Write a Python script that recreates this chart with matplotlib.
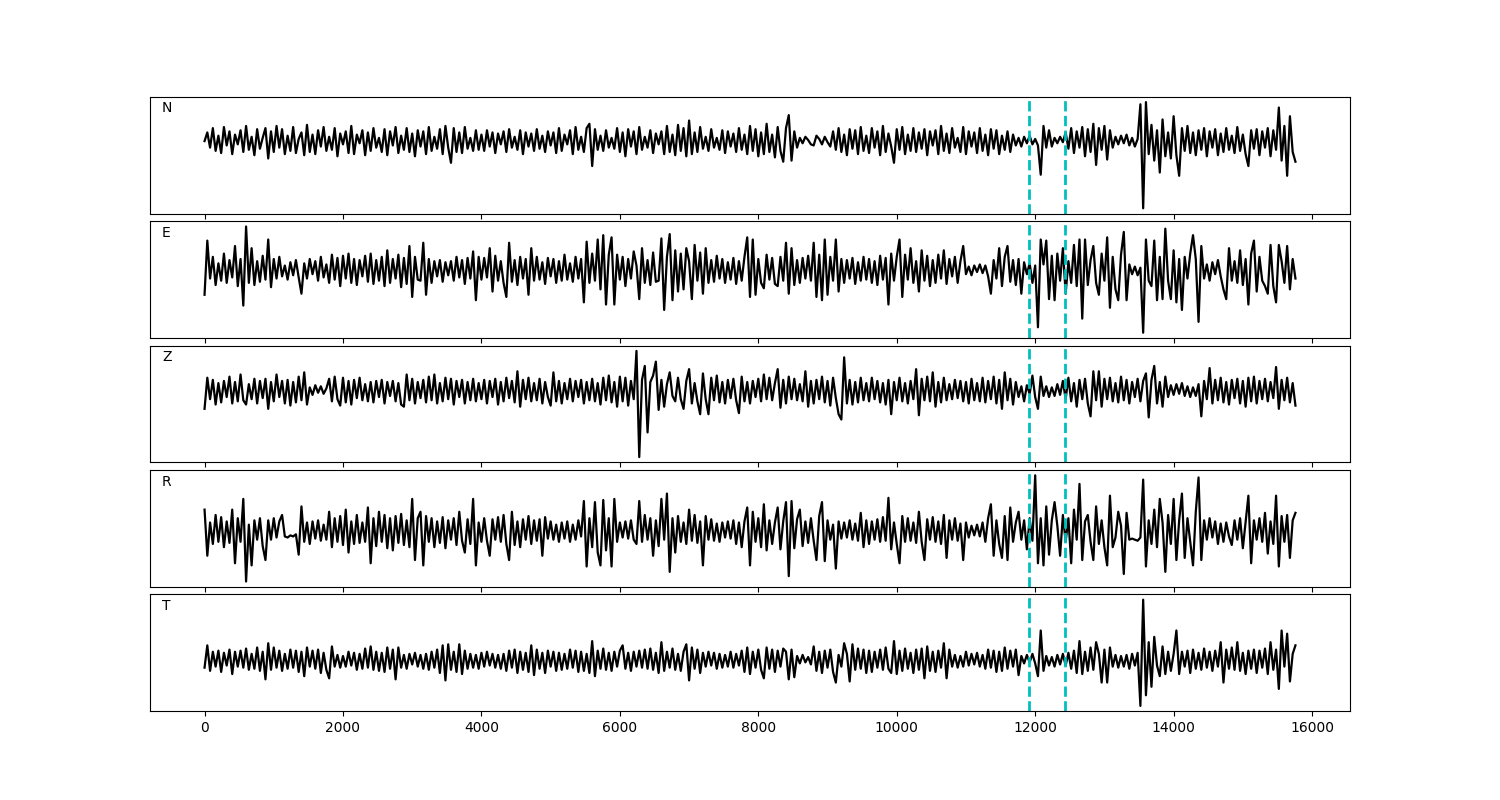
import numpy as np
import matplotlib
matplotlib.use('Agg')
import matplotlib.pyplot as plt

# sample spacing of the traces (x units)
step = 40
# picks marked by the dashed lines
picks = [11915, 12425]
components = ['N', 'E', 'Z', 'R', 'T']

trace_N = [
    0, 8, -6, 12, -9, 5, -11, 13, -4, 9, -12, 6, -3, 10, -10, 14, -8, 4, -13, 11,
    -7, 3, 12, -16, 9, -10, 14, -6, 11, -12, 5, -9, 13, -11, 2, 8, -13, 15, -10, 6,
    -12, 10, -5, 13, -9, 4, -8, 12, -14, 7, -3, 9, -11, 14, -12, 6, -2, 10, -13, 8,
    -9, 12, -6, 3, -10, 11, -13, 9, -4, 13, -11, 5, -8, 12, -10, 7, -14, 10, -5, 9,
    -12, 13, -9, 4, -7, 11, -12, 14, -6, -20, 12, -10, 8, -11, 13, -7, 3, -9, 10, -8,
    6, -9, 10, -5, 8, -11, 7, -3, 9, -10, 11, -6, 4, -8, 10, -12, 8, -5, 7, -9,
    11, -7, 5, -10, 9, -4, 8, -11, 12, -9, 6, -3, 10, -12, 13, -8, 4, -10, 12, 16,
    -23, 11, -8, 5, -9, 10, -6, 3, -7, 12, -10, 8, -14, 11, -5, 9, -12, 13, -8, 4,
    -6, 10, -11, 7, -3, 9, -12, 14, -10, 6, -13, 15, -9, 12, -14, 19, -12, 8, -10, 13,
    -7, 4, -9, 11, -6, 3, -8, 10, -11, 9, -5, 7, -10, 12, -8, 6, -12, 14, -9, 11,
    -14, 8, -12, 16, -10, 6, -15, 13, -9, -19, 12, 24, -18, 9, -6, 3, -2, 4, 1, -3,
    -4, 5, 2, -3, 4, -1, -5, 9, -8, 12, -10, 6, -13, 11, -7, 10, -12, 13, -9, 5,
    -11, 12, -6, 9, -13, 14, -10, 7, -5, -20, 11, -8, 13, -12, 6, -9, 12, -10, 8, -7,
    11, -13, 9, -4, 10, -12, 14, -9, 7, -11, 12, -6, 3, -10, 13, -12, 9, -5, 8, -11,
    12, -9, 6, -13, 11, -7, 10, -12, 5, -8, 9, -10, 6, -4, 3, -5, 4, -2, 5, -3,
    2, -4, -31, 14, -6, 10, -5, 3, -2, 4, -1, 8, -7, 12, -11, 9, -6, 13, -14, 11,
    -10, 16, -22, 12, -8, 14, -17, 10, -6, 4, -3, 5, -2, 6, -4, 3, -5, 2, 34, -62,
    36, -12, 15, -18, 10, -29, 20, -14, 8, -16, 23, -13, -32, 12, -9, 14, -11, 8, -13, 10,
    -8, 12, -14, 9, -6, 11, -13, 7, -10, 12, -8, 5, -11, 13, -9, 6, -12, -23, 10, -7,
    11, -13, 9, -6, 12, -14, 10, -8, 31, -18, 14, -32, 23, -10, -19,
]

trace_E = [
    -23, 27, -8, 12, -14, 6, -10, 15, -12, 9, -7, 22, -15, 10, -33, 40, -12, 20, -14, 8,
    -11, 13, -9, 28, -16, 10, -8, 12, -6, 4, -9, 7, -5, 9, -7, -22, 6, -8, 10, -4,
    8, -10, 12, -7, 5, -12, 14, -9, 11, -15, 13, -8, 15, -12, 10, -14, 9, -6, 13, -11,
    15, -13, 9, -10, 12, -15, 18, -12, 10, -8, 14, -16, 11, -13, 22, -25, 12, -9, -10, 25,
    -23, 10, -12, 8, -6, 9, -11, 7, -5, 8, -10, 12, -7, 9, -13, 11, -8, 17, -28, 12,
    -9, 11, -7, 20, -20, 13, -10, 8, -12, -25, 25, -11, 9, -14, 12, -8, 10, -23, 20, -10,
    12, -9, 7, -13, 11, -6, 10, -12, 8, -10, 14, -9, 6, -11, 12, -8, 10, -30, 26, -12,
    15, -10, 28, -18, 32, -32, 14, 30, -32, 14, -9, 12, -15, 10, -8, 17, 4, -27, 20, -12,
    9, -14, 16, -11, -10, 29, -37, 12, 33, -28, 18, -20, 15, -18, 20, 8, -27, 23, -10, 16,
    -22, 20, -12, 9, -11, 13, -8, 10, -12, 7, -9, 11, -13, 8, -10, 12, 30, -25, 28, -23,
    10, -12, -17, 14, -9, 11, -13, -15, 12, -10, 25, -22, 20, -14, 9, -12, 11, -8, 13, -10,
    25, -25, 14, -28, 28, -23, 12, -10, 28, -20, 10, -12, 9, -8, 11, -13, 7, -10, 12, -9,
    10, -12, 8, -14, 13, -9, 11, -32, 15, -10, 12, 28, -25, 14, -9, 20, -12, 8, -20, 18,
    -10, 13, -15, 9, -12, 14, -8, 18, -13, 10, -6, 12, -12, 8, 22, -4, 3, -5, 4, -2,
    5, -3, 4, -6, -22, 9, -8, 20, -15, 12, 22, -11, 9, -14, 10, -22, 7, -4, 6, -12,
    4, -53, 28, 5, 27, -27, 13, -28, 15, -10, 20, -22, 8, -12, 23, -15, 28, -45, 28, -14,
    9, 22, -12, -23, 15, -10, 30, -35, 12, -18, -28, 14, 35, -28, 5, -4, 3, -5, 2, -58,
    28, -10, -15, 27, -28, 12, -27, 38, -10, -27, 18, -30, 10, -37, 12, -8, 15, 32, 10, -48,
    22, -8, 5, -10, 7, -4, 9, -6, -18, -27, 20, -10, 8, -12, 18, -14, 10, -32, 15, 27,
    -20, 12, -10, -15, -22, 23, -15, -30, 23, 8, -12, 22, -18, 10, -8,
]

trace_Z = [
    -17, 12, -8, 10, -13, 7, -11, 9, -6, 13, -12, 8, -10, 15, -9, -13, 6, -8, 11, -12,
    9, -7, 11, -17, 8, -10, 15, -6, 9, -12, 10, -14, 8, -11, 13, -9, 17, -13, 3, -4,
    5, -2, 4, -3, 2, 11, -10, 13, -8, -14, 12, -11, 9, -13, 10, -7, 12, -9, 6, -10,
    8, -11, 9, -6, 10, -12, 8, -5, 9, -10, 7, -13, -15, 15, -9, 11, -12, 8, -7, 10,
    -11, 13, -9, 15, -12, 7, -10, 12, -8, 11, -13, 9, -6, 10, -12, 8, -9, 11, -10, 7,
    -8, 10, -12, 9, -6, 11, -13, 8, -10, 12, -7, 9, -11, 18, -15, 10, -8, 12, -10, 7,
    -9, 11, -12, 8, -6, -14, 17, -10, 9, -12, 7, -8, 11, -10, 9, -6, 10, -12, 8, -9,
    11, -10, 7, -13, 12, -9, 14, -11, 8, -15, 13, -10, 12, -14, 9, -8, 37, -62, 10, 23,
    -39, 8, 14, 27, -18, 10, -15, 6, 17, -5, -10, 12, -8, -17, 9, 20, -12, 7, -10, -22,
    16, -8, -22, 12, -9, 14, -11, 8, -12, 10, -7, 11, -9, -21, 13, -10, 8, -12, 9, -6,
    11, -10, 15, -8, 12, -9, 7, 20, -16, 10, -12, 13, -8, 11, -9, 6, -10, 18, -15, 9,
    -12, 10, -8, 13, -11, 9, -14, 12, -7, -22, -27, 31, -12, 10, -13, 8, -11, 12, -9, 7,
    -10, 12, -8, 9, -11, 7, -13, 10, -22, 8, -9, 12, -10, 7, -12, 9, -8, 20, -23, 11,
    -9, 13, -10, 17, -15, 8, -11, 12, -9, 6, -8, 10, -7, 9, -10, 8, -12, 11, -9, 7,
    -10, 12, -11, 9, -8, 13, -12, 10, -17, 17, -9, 11, -13, 8, -6, 4, -10, 5, -3, 14,
    -6, -17, 13, -5, 4, -6, 3, -5, 6, -4, 9, -8, 12, -10, 7, -15, 10, -8, 11, -12,
    -24, 18, -9, 18, -15, 11, -8, 12, -10, 7, -11, 13, -9, 10, -12, 8, -6, 11, -10, 9,
    16, -25, 10, 23, -12, 8, -15, 13, -6, 5, -4, 6, -3, 7, -5, 4, -6, 3, -5, 6,
    -24, 9, -8, 21, -12, 10, -9, 12, -11, 8, -13, 10, -7, 11, -12, 9, -15, 12, -10, 13,
    -12, 9, -8, 11, -10, 8, -7, 22, -17, 10, -9, 12, -11, 7, -14,
]

trace_R = [
    20, -23, 8, -12, 15, -10, 13, -15, 9, -11, 20, -30, 12, -10, 30, -47, 6, -32, 10, -8,
    12, -14, -27, 10, -8, 12, -6, 9, 15, -5, -6, -4, -5, -3, -22, 23, -10, 8, -12, 9,
    -7, 10, -9, 6, -8, 18, -15, 12, -10, 14, -13, 20, -20, 9, -12, 15, -11, 8, -10, 22,
    -30, 12, -14, 18, -10, 15, -16, 12, -18, 14, -11, 16, -13, 10, -15, 30, -27, 12, 18, -32,
    14, -10, 12, -15, 9, -11, 13, -16, 10, -8, 12, -13, 18, -9, -20, 11, -12, 30, -32, 8,
    -10, 12, -9, -23, 11, -8, 13, -10, 15, -12, -27, 18, -13, 9, -15, 11, -8, 14, -12, 10,
    -9, 11, -23, 13, -7, 9, -8, 6, -10, 8, -7, 9, -10, 6, -8, 10, -5, 28, -33, 12,
    -15, 27, -20, -32, 29, -18, 12, -33, 30, -10, 8, -6, 9, -7, 10, -8, -12, 28, -10, 15,
    -8, 12, -23, 10, -14, 30, -8, 35, -38, 12, -20, 14, -10, 8, -12, 20, -9, 15, -11, 9,
    -32, 14, -8, 11, -9, 7, -10, 8, -6, 9, -7, 10, -12, 8, -15, 9, 22, -32, 18, -10,
    12, -15, 25, -18, 10, -12, 8, 22, -17, 9, 27, -42, 28, -16, 11, 20, -14, 9, -11, 12,
    -9, -27, 14, 27, -28, 10, -8, 6, -35, 9, -7, 8, -6, 10, -8, 7, -9, 17, -15, 10,
    -12, 9, -8, 11, -10, 13, -9, 31, -17, 8, -12, -30, 14, -10, 12, -9, 8, -11, 18, -10,
    -27, 11, -8, 13, -10, 9, -12, 15, -25, 10, -8, 12, -9, 7, -27, 8, -6, 5, -4, 6,
    -5, 8, -10, 12, 25, -23, 10, -12, -25, 14, -27, 22, -10, 8, 18, -8, 10, -17, 12, -9,
    52, -30, 12, -32, 23, -22, 10, 27, 5, -23, 15, -10, 12, -30, 20, -8, 44, -27, 9, 15,
    -10, -27, 23, -12, 10, -15, -32, 33, -15, -6, 18, 5, -40, 17, -8, -7, -8, -9, -6, 48,
    -33, 10, -12, 20, -15, 30, 8, -38, 15, -12, 30, -27, 10, 35, -25, 12, -10, -32, 18, 50,
    -27, 10, -8, 12, -6, 9, -12, 7, -10, 8, -5, -13, 10, -8, 12, -16, 9, 33, -30, 10,
    -8, 12, -10, 17, -21, 9, -12, 33, -33, 14, -10, 15, -25, 10, 17,
]

trace_T = [
    -7, 14, -10, 8, -6, 9, -11, 7, -5, 10, -13, 8, -6, 9, -7, 11, -9, 6, -8, 12,
    -10, 8, -18, 16, -9, 12, -7, 9, -10, 6, -8, 10, -7, 9, -11, 8, -15, 12, -6, 9,
    -8, 10, -12, 7, -9, -17, 13, -6, 5, -7, 4, -6, 8, -5, 7, -9, 6, -8, 11, -7,
    13, -9, 8, -10, 7, -11, 12, -8, 10, -18, 12, -7, 5, -8, 6, -4, 7, -6, 5, -8,
    6, -9, 8, -7, 10, -12, 14, -19, 15, -9, 8, -11, 15, -13, 9, -8, 6, -7, 5, -8,
    7, -6, 8, -5, 6, -7, 5, -8, 6, -10, 9, -7, 10, -12, 8, -9, 7, -11, 14, -14,
    10, -8, 7, -12, 9, -6, 8, -10, 7, -9, 6, -8, 10, -7, 9, -11, 8, -10, 6, -12,
    18, -15, 9, -8, 11, -9, 7, -10, 8, -6, 9, 14, -8, 7, -10, 8, -6, 9, -7, 10,
    -8, 11, -9, 7, -12, 17, -10, 8, -7, 11, -9, 6, -10, 8, 15, -19, 12, -8, 10, -12,
    7, -6, 8, -5, 7, -8, 6, -7, 5, -6, 8, -7, 6, -5, 9, -11, 12, -13, 8, -7,
    10, -9, -17, 12, -8, 10, -11, 9, -6, 11, 8, -18, 10, -16, 4, -3, 5, -2, 3, -4,
    13, -10, 8, -12, 9, -7, 10, -11, -21, 5, -6, 16, 6, -20, 15, -9, 11, -8, 10, -12,
    9, -11, 8, -7, 10, -9, 12, -8, -12, 18, -13, 9, -10, 11, -8, 7, -12, 10, -9, 11,
    -17, 13, -10, 8, -11, 9, -7, 16, -17, 10, -6, 5, -7, 4, -6, 8, -5, 6, -4, 7,
    -6, 5, -8, 10, -7, 9, -11, 8, -10, 12, -8, 9, -6, 10, -14, 4, -3, 5, -2, 6,
    -3, -15, 28, -10, 4, -5, 3, -6, 5, -4, 6, -5, 7, -8, 9, -12, 18, -13, 8, -10,
    12, -9, 17, 6, -21, 10, -21, 12, -6, 5, -7, 4, -6, 5, -8, 6, -5, 7, -43, 57,
    -33, 17, -25, 22, -5, -15, 13, -13, 8, -10, 6, 28, -13, 8, -6, 9, -12, 10, -8, 7,
    -9, 11, -7, 8, -10, 9, -6, 17, -21, 10, -8, 12, -9, 17, -10, 7, -13, 9, -8, 10,
    -12, 9, -7, 11, -13, 17, -9, 10, -27, 28, -6, 25, -20, 6, 14,
]


def plot_traces():
    traces = [trace_N, trace_E, trace_Z, trace_R, trace_T]
    fig, axes = plt.subplots(5, 1, figsize=(15, 8), dpi=100, sharex=True)
    fig.subplots_adjust(left=0.1, right=0.9, top=0.879, bottom=0.111, hspace=0.065)

    for ax, name, tr in zip(axes, components, traces):
        x = np.arange(len(tr)) * step
        ax.plot(x, tr, color='k', linewidth=1.6)
        for p in picks:
            ax.axvline(p, color='c', linestyle='--', linewidth=2)
        ax.set_yticks([])
        ax.text(0.01, 0.9, name, transform=ax.transAxes, va='center', fontsize=10)

    plt.savefig('out.png')
    plt.close()


if __name__ == '__main__':
    plot_traces()
